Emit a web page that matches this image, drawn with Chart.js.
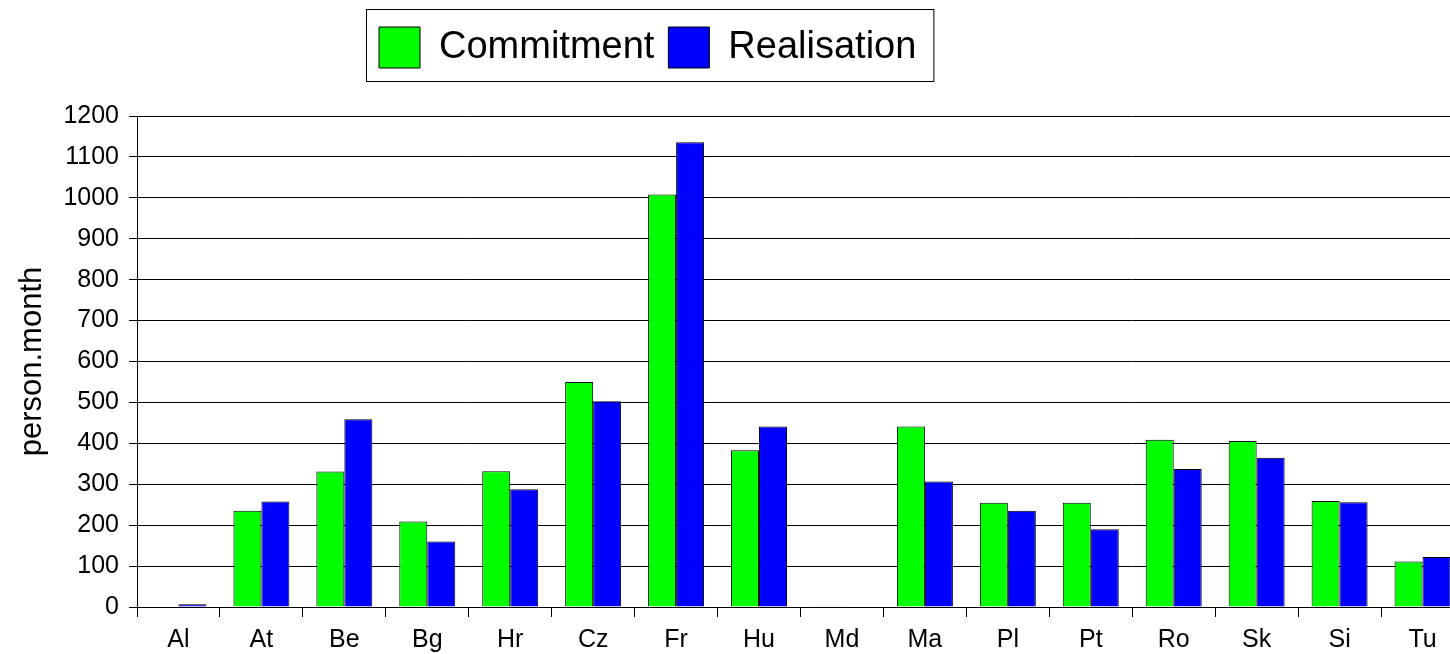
<!DOCTYPE html>
<html>
<head>
<meta charset="utf-8">
<script src="https://cdn.jsdelivr.net/npm/chart.js@4"></script>
<style>
    html, body { margin: 0; padding: 0; background: #fff; overflow: hidden; }
    #wrap { position: relative; width: 1464px; height: 654px; }
</style>
</head>
<body>
<div id="wrap"><canvas id="barChart"></canvas></div>
<script>
const countries = ['Al', 'At', 'Be', 'Bg', 'Hr', 'Cz', 'Fr', 'Hu', 'Md', 'Ma', 'Pl', 'Pt', 'Ro', 'Sk', 'Si', 'Tu'];
const commitment = [0, 235, 331, 209, 332, 550, 1008, 383, 2, 441, 255, 255, 409, 406, 259, 111];
const realisation = [7, 258, 459, 160, 288, 503, 1136, 441, 1, 307, 235, 190, 337, 365, 256, 122];
const yMin = 0;
const yMax = 1200;
const yStep = 100;

const fontFamily = "'Liberation Sans', Arial, sans-serif";

// grow the legend box so the plot starts lower, and draw the frame around it
const legendTweaks = {
    id: 'legendTweaks',
    beforeInit(chart) {
        const fit = chart.legend.fit;
        chart.legend.fit = function () {
            fit.call(this);
            this.height += 38;
        };
    },
    afterLayout(chart) {
        chart.legend.left = 365;
    },
    afterDraw(chart) {
        const boxes = chart.legend.legendHitBoxes;
        if (!boxes.length) return;
        const last = boxes[boxes.length - 1];
        const ctx = chart.ctx;
        ctx.save();
        ctx.strokeStyle = '#000';
        ctx.lineWidth = 1;
        ctx.strokeRect(366.5, 9.5, (last.left + last.width + 17) - 366, 72);
        ctx.restore();
    }
};

const ctx = document.getElementById('barChart');

const barChart = new Chart(ctx, {
    type: 'bar',
    data: {
        labels: countries,
        datasets: [{
            label: 'Commitment',
            data: commitment,
            backgroundColor: '#00ff00',
            borderColor: '#000',
            borderWidth: 1,
            borderSkipped: 'start'
        }, {
            label: 'Realisation',
            data: realisation,
            backgroundColor: '#0000ff',
            borderColor: '#000',
            borderWidth: 1,
            borderSkipped: 'start'
        }]
    },
    options: {
        responsive: true,
        maintainAspectRatio: false,
        animation: false,
        layout: { padding: { top: 13, left: 0, right: 0, bottom: 0 } },
        datasets: {
            bar: { categoryPercentage: 0.675, barPercentage: 1.0 }
        },
        plugins: {
            legend: {
                align: 'start',
                labels: {
                    boxWidth: 41,
                    boxHeight: 41,
                    padding: 14,
                    color: '#000',
                    font: { family: fontFamily, size: 38 }
                }
            },
            tooltip: { enabled: false }
        },
        scales: {
            x: {
                grid: {
                    offset: true,
                    drawOnChartArea: false,
                    drawTicks: true,
                    tickLength: 10,
                    color: '#000'
                },
                border: { color: '#000', width: 1 },
                ticks: {
                    color: '#000',
                    padding: 8,
                    maxRotation: 0,
                    autoSkip: false,
                    font: { family: fontFamily, size: 25 }
                },
                afterFit(scale) { scale.height = 47; }
            },
            y: {
                min: yMin,
                max: yMax,
                grid: {
                    color: '#000',
                    lineWidth: 1,
                    drawTicks: true,
                    tickLength: 8
                },
                border: { color: '#000', width: 1 },
                ticks: {
                    stepSize: yStep,
                    color: '#000',
                    padding: 10,
                    font: { family: fontFamily, size: 25 },
                    callback: (value) => String(value)
                },
                title: {
                    display: true,
                    text: 'person.month',
                    color: '#000',
                    padding: { top: 14, bottom: 0 },
                    font: { family: fontFamily, size: 31 }
                },
                afterFit(scale) { scale.width = 137; }
            }
        }
    },
    plugins: [legendTweaks]
});
</script>
</body>
</html>
